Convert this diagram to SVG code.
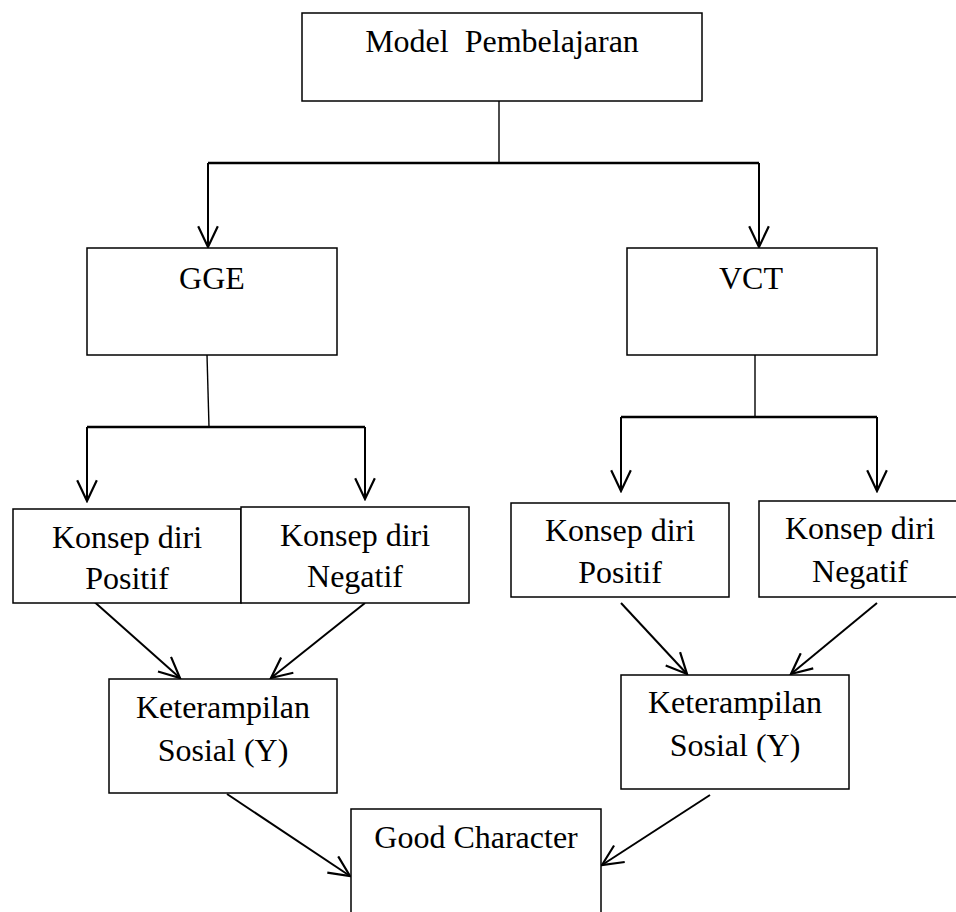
<svg xmlns="http://www.w3.org/2000/svg" width="956" height="912" viewBox="0 0 956 912">
<style>
.box{fill:#fff;stroke:#000;stroke-width:1.5}
.t{font-family:"Liberation Serif","Times New Roman",serif;font-size:32px;fill:#000;text-anchor:middle}
.thin{stroke:#000;stroke-width:1.4;fill:none}
.thick{stroke:#000;stroke-width:2.5;fill:none}
.arr{stroke:#000;stroke-width:2;fill:none;marker-end:url(#ah)}
</style>
<defs>
<marker id="ah" markerUnits="userSpaceOnUse" markerWidth="24" markerHeight="22" viewBox="0 0 22 20" refX="20" refY="10" orient="auto">
<path d="M1,1 L20,10 L1,19" fill="none" stroke="#000" stroke-width="2"/>
</marker>
</defs>
<rect width="956" height="912" fill="#fff"/>
<g id="connectors">
<line class="thin" x1="499" y1="101" x2="499" y2="163"/>
<line class="thick" x1="208" y1="163" x2="759" y2="163"/>
<line class="arr" x1="208" y1="163" x2="208" y2="247"/>
<line class="arr" x1="759" y1="163" x2="759" y2="247"/>
<line class="thin" x1="207" y1="355" x2="209" y2="427"/>
<line class="thick" x1="87" y1="427" x2="365" y2="427"/>
<line class="arr" x1="87" y1="427" x2="87" y2="501"/>
<line class="arr" x1="365" y1="427" x2="365" y2="499"/>
<line class="thin" x1="755" y1="355" x2="755" y2="417"/>
<line class="thick" x1="621" y1="417" x2="877" y2="417"/>
<line class="arr" x1="621" y1="417" x2="621" y2="491"/>
<line class="arr" x1="877" y1="417" x2="877" y2="491"/>
<line class="arr" x1="90" y1="598" x2="180" y2="678"/>
<line class="arr" x1="365" y1="603" x2="271" y2="678"/>
<line class="arr" x1="621" y1="603" x2="687" y2="674"/>
<line class="arr" x1="877" y1="603" x2="791" y2="674"/>
<line class="arr" x1="227" y1="794" x2="350" y2="876"/>
<line class="arr" x1="710" y1="795" x2="602" y2="865"/>
</g>
<g id="model">
<rect class="box" x="302" y="13" width="400" height="88"/>
<text class="t" x="502" y="52" xml:space="preserve">Model  Pembelajaran</text>
</g>
<g id="gge">
<rect class="box" x="87" y="248" width="250" height="107"/>
<text class="t" x="212" y="289">GGE</text>
</g>
<g id="vct">
<rect class="box" x="627" y="248" width="250" height="107"/>
<text class="t" x="751" y="289">VCT</text>
</g>
<g id="gge-positif">
<rect class="box" x="13" y="509" width="228" height="94"/>
<text class="t" x="127" y="548">Konsep diri</text>
<text class="t" x="127" y="589">Positif</text>
</g>
<g id="gge-negatif">
<rect class="box" x="241" y="507" width="228" height="96"/>
<text class="t" x="355" y="546">Konsep diri</text>
<text class="t" x="355" y="587">Negatif</text>
</g>
<g id="vct-positif">
<rect class="box" x="511" y="503" width="218" height="94"/>
<text class="t" x="620" y="541">Konsep diri</text>
<text class="t" x="620" y="583">Positif</text>
</g>
<g id="vct-negatif">
<rect class="box" x="759" y="501" width="198" height="96"/>
<text class="t" x="860" y="539">Konsep diri</text>
<text class="t" x="860" y="582">Negatif</text>
</g>
<g id="gge-keterampilan">
<rect class="box" x="109" y="679" width="228" height="114"/>
<text class="t" x="223" y="718">Keterampilan</text>
<text class="t" x="223" y="761">Sosial (Y)</text>
</g>
<g id="vct-keterampilan">
<rect class="box" x="621" y="675" width="228" height="114"/>
<text class="t" x="735" y="713">Keterampilan</text>
<text class="t" x="735" y="756">Sosial (Y)</text>
</g>
<g id="good-character">
<rect class="box" x="351" y="809" width="250" height="110"/>
<text class="t" x="476" y="848">Good Character</text>
</g>
</svg>
